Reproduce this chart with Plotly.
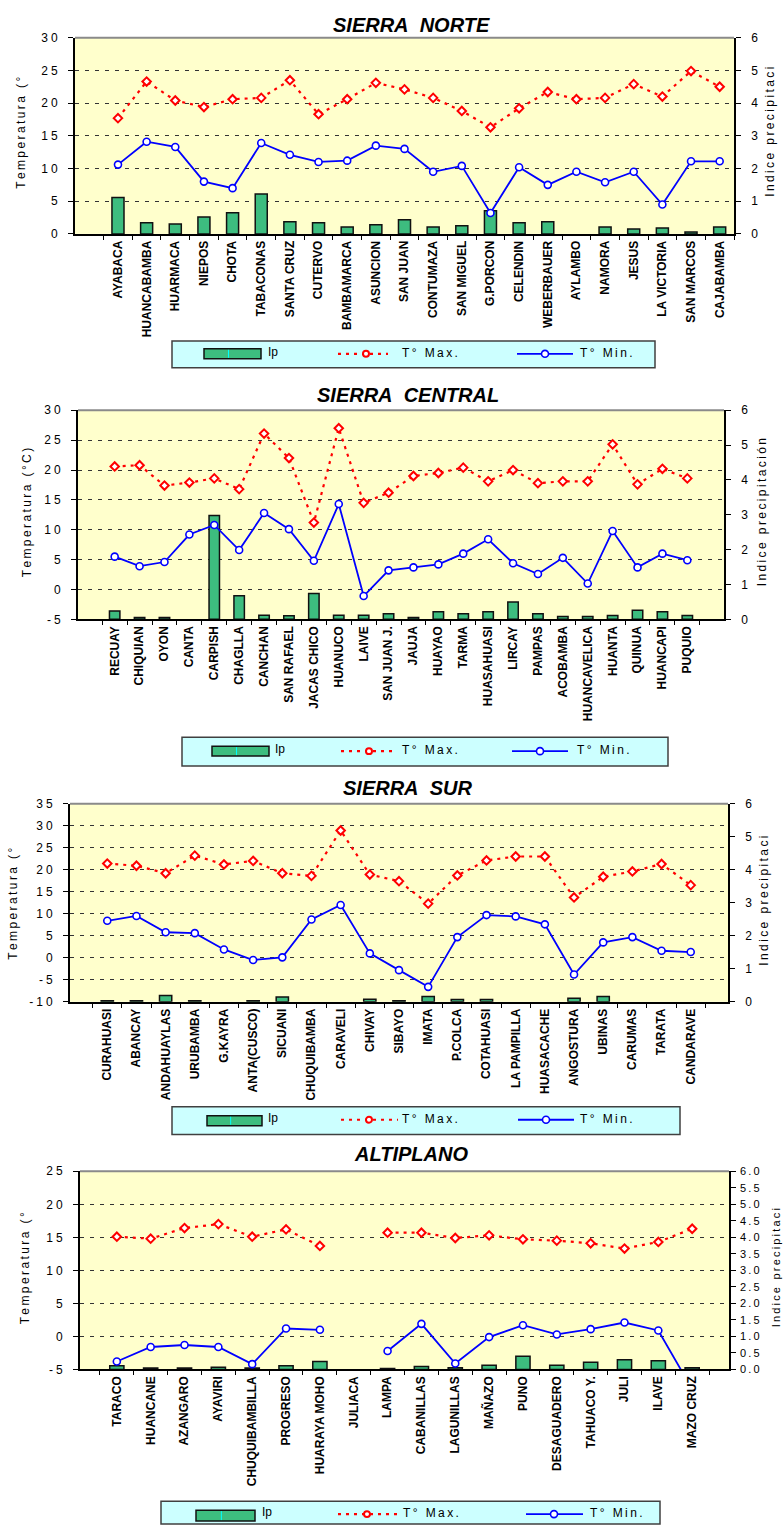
import plotly.graph_objects as go

W, H = 784, 1533

# ---------------- SIERRA NORTE ----------------
norte_est = ["AYABACA", "HUANCABAMBA", "HUARMACA", "NIEPOS", "CHOTA", "TABACONAS",
             "SANTA CRUZ", "CUTERVO", "BAMBAMARCA", "ASUNCION", "SAN JUAN", "CONTUMAZA",
             "SAN MIGUEL", "G.PORCON", "CELENDIN", "WEBERBAUER", "AYLAMBO", "NAMORA",
             "JESUS", "LA VICTORIA", "SAN MARCOS", "CAJABAMBA"]
norte_tmax = [17.7, 23.3, 20.4, 19.4, 20.6, 20.8, 23.5, 18.3, 20.6, 23.1, 22.1, 20.8,
              18.8, 16.3, 19.2, 21.7, 20.6, 20.8, 22.9, 21.0, 24.9, 22.5]
norte_tmin = [10.6, 14.1, 13.3, 8.0, 7.0, 13.9, 12.1, 11.0, 11.2, 13.5, 13.0, 9.5,
              10.4, 3.2, 10.2, 7.5, 9.5, 7.9, 9.5, 4.5, 11.1, 11.1]
norte_ip = [1.11, 0.34, 0.30, 0.52, 0.65, 1.22, 0.37, 0.34, 0.21, 0.28, 0.43, 0.21,
            0.25, 0.71, 0.34, 0.37, None, 0.21, 0.15, 0.18, 0.06, 0.21]

# ---------------- SIERRA CENTRAL ----------------
central_est = ["RECUAY", "CHIQUIAN", "OYON", "CANTA", "CARPISH", "CHAGLLA", "CANCHAN",
               "SAN RAFAEL", "JACAS CHICO", "HUANUCO", "LAIVE", "SAN JUAN J.", "JAUJA",
               "HUAYAO", "TARMA", "HUASAHUASI", "LIRCAY", "PAMPAS", "ACOBAMBA",
               "HUANCAVELICA", "HUANTA", "QUINUA", "HUANCAPI", "PUQUIO"]
central_tmax = [20.6, 20.8, 17.4, 17.9, 18.6, 16.8, 26.1, 22.0, 11.2, 27.0, 14.5, 16.2,
                19.0, 19.5, 20.4, 18.1, 20.0, 17.8, 18.1, 18.1, 24.3, 17.6, 20.2, 18.6]
central_tmin = [5.5, 3.9, 4.6, 9.2, 10.8, 6.6, 12.8, 10.1, 4.8, 14.3, -1.1, 3.2,
                3.7, 4.2, 6.0, 8.4, 4.4, 2.6, 5.3, 1.0, 9.8, 3.7, 6.0, 4.9]
central_ip = [0.24, 0.05, 0.05, None, 2.98, 0.68, 0.12, 0.10, 0.74, 0.12, 0.12, 0.16,
              0.05, 0.22, 0.16, 0.22, 0.50, 0.16, 0.08, 0.08, 0.11, 0.26, 0.22, 0.11]

# ---------------- SIERRA SUR ----------------
sur_est = ["CURAHUASI", "ABANCAY", "ANDAHUAYLAS", "URUBAMBA", "G.KAYRA", "ANTA(CUSCO)",
           "SICUANI", "CHUQUIBAMBA", "CARAVELI", "CHIVAY", "SIBAYO", "IMATA", "P.COLCA",
           "COTAHUASI", "LA PAMPILLA", "HUASACACHE", "ANGOSTURA", "UBINAS", "CARUMAS",
           "TARATA", "CANDARAVE"]
sur_tmax = [21.4, 20.9, 19.2, 23.2, 21.2, 22.0, 19.2, 18.6, 28.9, 18.9, 17.4, 12.3,
            18.7, 22.1, 23.0, 23.0, 13.7, 18.4, 19.6, 21.3, 16.5]
sur_tmin = [8.4, 9.5, 5.8, 5.6, 1.9, -0.5, 0.1, 8.7, 12.0, 1.0, -2.8, -6.6,
            4.7, 9.7, 9.4, 7.6, -3.8, 3.5, 4.7, 1.6, 1.3]
sur_ip = [0.03, 0.03, 0.19, 0.03, None, 0.03, 0.15, None, None, 0.08, 0.03, 0.16,
          0.07, 0.07, None, None, 0.11, 0.16, None, None, None]

# ---------------- ALTIPLANO ----------------
alti_est = ["TARACO", "HUANCANE", "AZANGARO", "AYAVIRI", "CHUQUIBAMBILLA", "PROGRESO",
            "HUARAYA MOHO", "JULIACA", "LAMPA", "CABANILLAS", "LAGUNILLAS", "MAÑAZO",
            "PUNO", "DESAGUADERO", "TAHUACO Y.", "JULI", "ILAVE", "MAZO CRUZ"]
alti_tmax = [15.1, 14.8, 16.4, 17.0, 15.1, 16.2, 13.7, None, 15.7, 15.7, 14.9, 15.3,
             14.7, 14.5, 14.1, 13.3, 14.3, 16.3]
alti_tmin = [-3.8, -1.6, -1.3, -1.6, -4.2, 1.2, 1.0, None, -2.2, 1.9, -4.1, -0.1,
             1.7, 0.3, 1.1, 2.1, 0.9, -8.0]
alti_ip = [0.11, 0.04, 0.04, 0.07, 0.04, 0.11, 0.24, None, 0.03, 0.09, 0.05, 0.13,
           0.40, 0.13, 0.22, 0.29, 0.26, 0.05]

# ---------------- styling ----------------
BG_PLOT = "#FFFFCC"
BAR_GREEN = "#3DBD7F"
RED = "#FF0000"
BLUE = "#0000FF"
LEG_BG = "#CCFFFF"
FONT = "Liberation Sans, Arial, sans-serif"
THIN = "\u2009"
TICKGAP = "\u2005"


def spaced(s, gap=THIN):
    return gap.join(s)


def X(px):
    return px / W


def Y(py):
    return 1 - py / H


panels = [
    dict(title="SIERRA\u00a0 NORTE", est=norte_est, tmax=norte_tmax, tmin=norte_tmin, ip=norte_ip,
         trange=[0, 30], box=(75, 734, 31, 229), title_xy=(411, 18), xrange=[-1.5, 21.5],
         ltitle="Temperatura (°", lxy=(21, 127), rtitle="Indice precipitaci", rxy=(770, 126),
         ipdt=1, rstand=8, rsize=12,
         legend=dict(box=(172, 655, 337, 364), bar=(204, 261, 345, 355), ym=350,
                     ip=266, mx=(338, 388, 366, 400), mn=(517, 573, 545, 578))),
    dict(title="SIERRA\u00a0 CENTRAL", est=central_est, tmax=central_tmax, tmin=central_tmin,
         ip=central_ip, trange=[-5, 30], box=(78, 724, 407, 618), title_xy=(408, 392),
         xrange=None, ltitle="Temperatura (°C)", lxy=(27, 510), rtitle="Indice precipitación",
         rxy=(762, 510), ipdt=1, rstand=8, rsize=12,
         legend=dict(box=(182, 668, 737, 766), bar=(212, 269, 746, 756), ym=751,
                     ip=273, mx=(341, 397, 369, 400), mn=(512, 568, 540, 575))),
    dict(title="SIERRA\u00a0 SUR", est=sur_est, tmax=sur_tmax, tmin=sur_tmin, ip=sur_ip,
         trange=[-10, 35], box=(70, 728, 804, 1004), title_xy=(407, 788), xrange=None,
         ltitle="Temperatura (°", lxy=(13, 905), rtitle="Indice precipitaci", rxy=(764, 902),
         ipdt=1, rstand=8, rsize=12,
         legend=dict(box=(172, 680, 1110, 1138), bar=(207, 262, 1119, 1129), ym=1123,
                     ip=266, mx=(341, 398, 369, 400), mn=(518, 574, 546, 578))),
    dict(title="ALTIPLANO", est=alti_est, tmax=alti_tmax, tmin=alti_tmin, ip=alti_ip,
         trange=[-5, 25], box=(80, 729, 1175, 1375), title_xy=(411, 1158), xrange=None,
         ltitle="Temperatura (°", lxy=(25, 1273), rtitle="Indice precipitaci", rxy=(776, 1273),
         ipdt=0.5, rstand=2, rsize=11,
         legend=dict(box=(161, 660, 1508, 1531), bar=(196, 255, 1517, 1528), ym=1521,
                     ip=260, mx=(338, 397, 367, 401), mn=(526, 583, 554, 588))),
]

fig = go.Figure()
layout = dict(
    width=W, height=H, margin=dict(l=0, r=0, t=0, b=0),
    paper_bgcolor="white", plot_bgcolor=BG_PLOT, showlegend=False,
    font=dict(family=FONT, size=11, color="black"),
)
shapes = []
annotations = []

for k, p in enumerate(panels, start=1):
    xname = "x" if k == 1 else f"x{k}"
    yb = 2 * k - 1
    yt = 2 * k
    yb_name = "y" if yb == 1 else f"y{yb}"
    yt_name = f"y{yt}"
    x0, x1, top, bot = p["box"]

    # precipitation index bars (base axis, right side)
    fig.add_trace(go.Bar(
        x=p["est"], y=p["ip"], xaxis=xname, yaxis=yb_name, name="Ip", width=0.42,
        marker=dict(color=BAR_GREEN, line=dict(color="#111111", width=1.5)),
    ))
    # maximum temperature
    fig.add_trace(go.Scatter(
        x=p["est"], y=p["tmax"], xaxis=xname, yaxis=yt_name, name="T° Max.",
        mode="lines+markers", connectgaps=False,
        line=dict(color=RED, width=2.2, dash="3px,5px"),
        marker=dict(symbol="diamond", size=6.5, color="white", line=dict(color=RED, width=2)),
    ))
    # minimum temperature
    fig.add_trace(go.Scatter(
        x=p["est"], y=p["tmin"], xaxis=xname, yaxis=yt_name, name="T° Min.",
        mode="lines+markers", connectgaps=False,
        line=dict(color=BLUE, width=1.8),
        marker=dict(symbol="circle", size=7, color="white", line=dict(color=BLUE, width=1.6)),
    ))

    xkey = "xaxis" if k == 1 else f"xaxis{k}"
    ybkey = "yaxis" if yb == 1 else f"yaxis{yb}"
    ytkey = f"yaxis{yt}"

    xa = dict(
        domain=[X(x0), X(x1)], anchor=yb_name, type="category",
        categoryorder="array", categoryarray=p["est"],
        tickangle=-90, ticks="outside", tickson="boundaries", ticklen=4, tickwidth=1,
        tickcolor="black", showline=True, linecolor="black", linewidth=2,
        showgrid=False, zeroline=False,
        tickfont=dict(family=FONT, size=12, weight="bold", color="black"),
    )
    if p["xrange"] is not None:
        xa["range"] = p["xrange"]
    layout[xkey] = xa

    ipvals = []
    v = 0.0
    while v <= 6.0001:
        ipvals.append(round(v, 1))
        v += p["ipdt"]
    if p["ipdt"] < 1:
        iptext = [spaced(f"{t:.1f}", THIN) for t in ipvals]
    else:
        iptext = [spaced(f"{t:.0f}", TICKGAP) for t in ipvals]
    layout[ybkey] = dict(
        domain=[Y(bot), Y(top)], anchor=xname, side="right", range=[0, 6],
        tickvals=ipvals, ticktext=iptext, showgrid=False, zeroline=False,
        showline=True, linecolor="black", linewidth=1.5, ticks="outside", ticklen=5,
        tickcolor="black", ticklabelstandoff=p["rstand"],
        tickfont=dict(family=FONT, size=p["rsize"], color="black"),
    )

    tvals = list(range(p["trange"][0], p["trange"][1] + 1, 5))
    layout[ytkey] = dict(
        overlaying=yb_name, anchor=xname, side="left", range=p["trange"],
        tickvals=tvals, ticktext=[spaced(str(t), TICKGAP) for t in tvals],
        showgrid=True, gridcolor="#333333", gridwidth=1, griddash="4px,6px",
        zeroline=False, showline=True, linecolor="black", linewidth=2,
        ticks="outside", ticklen=5, tickcolor="black", ticklabelstandoff=8,
        tickfont=dict(family=FONT, size=12, color="black"),
    )

    # grey frame line along the top of the plotting area
    shapes.append(dict(type="line", xref="paper", yref="paper", x0=X(x0), x1=X(x1),
                       y0=Y(top), y1=Y(top), line=dict(color="#8a8a8a", width=2)))

    # panel title
    annotations.append(dict(
        text=f"<b><i>{p['title']}</i></b>", xref="paper", yref="paper",
        x=X(p["title_xy"][0]), y=Y(p["title_xy"][1]), xanchor="center", yanchor="middle",
        showarrow=False, font=dict(family=FONT, size=20, color="black"),
    ))
    # axis titles
    annotations.append(dict(
        text=spaced(p["ltitle"]), xref="paper", yref="paper", x=X(p["lxy"][0]),
        y=Y(p["lxy"][1]), xanchor="center", yanchor="middle", textangle=-90,
        showarrow=False, font=dict(family=FONT, size=12, color="black"),
    ))
    annotations.append(dict(
        text=spaced(p["rtitle"]), xref="paper", yref="paper", x=X(p["rxy"][0]),
        y=Y(p["rxy"][1]), xanchor="center", yanchor="middle", textangle=-90,
        showarrow=False, font=dict(family=FONT, size=p["rsize"], color="black"),
    ))

    # legend box
    lg = p["legend"]
    bx0, bx1, by0, by1 = lg["box"]
    shapes.append(dict(type="rect", xref="paper", yref="paper", x0=X(bx0), x1=X(bx1),
                       y0=Y(by1), y1=Y(by0), fillcolor=LEG_BG,
                       line=dict(color="#404040", width=1.5)))
    sx0, sx1, sy0, sy1 = lg["bar"]
    shapes.append(dict(type="rect", xref="paper", yref="paper", x0=X(sx0), x1=X(sx1),
                       y0=Y(sy1), y1=Y(sy0), fillcolor=BAR_GREEN,
                       line=dict(color="#111111", width=1.5)))
    cx = sx0 + 0.43 * (sx1 - sx0)
    shapes.append(dict(type="line", xref="paper", yref="paper", x0=X(cx), x1=X(cx),
                       y0=Y(sy1 - 1), y1=Y(sy0 + 1), line=dict(color="#00FFFF", width=1)))
    annotations.append(dict(text="Ip", xref="paper", yref="paper", x=X(lg["ip"]),
                            y=Y(lg["ym"] - 2), xanchor="left", yanchor="middle",
                            showarrow=False, font=dict(family=FONT, size=12, color="black")))
    ym = lg["ym"]
    mx0, mx1, mmk, mtx = lg["mx"]
    shapes.append(dict(type="line", xref="paper", yref="paper", x0=X(mx0), x1=X(mx1),
                       y0=Y(ym), y1=Y(ym), line=dict(color=RED, width=2.2, dash="3px,5px")))
    shapes.append(dict(type="circle", xref="paper", yref="paper", x0=X(mmk - 3), x1=X(mmk + 3),
                       y0=Y(ym + 3), y1=Y(ym - 3), fillcolor="white",
                       line=dict(color=RED, width=2)))
    annotations.append(dict(text=spaced("T° Max."), xref="paper", yref="paper", x=X(mtx),
                            y=Y(ym - 1), xanchor="left", yanchor="middle", showarrow=False,
                            font=dict(family=FONT, size=12, color="black")))
    nx0, nx1, nmk, ntx = lg["mn"]
    shapes.append(dict(type="line", xref="paper", yref="paper", x0=X(nx0), x1=X(nx1),
                       y0=Y(ym), y1=Y(ym), line=dict(color=BLUE, width=1.8)))
    shapes.append(dict(type="circle", xref="paper", yref="paper", x0=X(nmk - 3.5),
                       x1=X(nmk + 3.5), y0=Y(ym + 3.5), y1=Y(ym - 3.5), fillcolor="white",
                       line=dict(color=BLUE, width=1.6)))
    annotations.append(dict(text=spaced("T° Min."), xref="paper", yref="paper", x=X(ntx),
                            y=Y(ym - 1), xanchor="left", yanchor="middle", showarrow=False,
                            font=dict(family=FONT, size=12, color="black")))

layout["shapes"] = shapes
layout["annotations"] = annotations
fig.update_layout(**layout)

fig.write_html("out.html")
